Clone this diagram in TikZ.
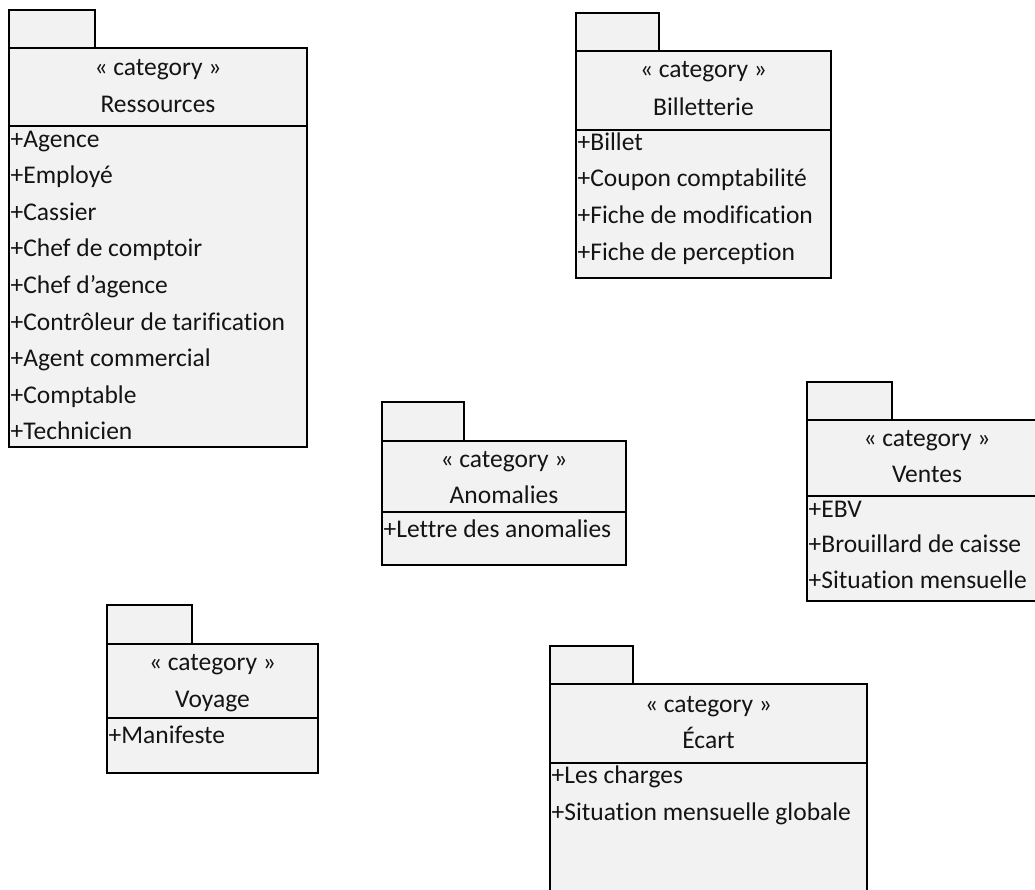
\documentclass[tikz,border=0pt]{standalone}
\usepackage{fontspec}
\setmainfont{Carlito}[Ligatures=NoCommon]
\tikzset{
  pkgfill/.style={draw=black, line width=1.5pt, fill=black!5},
  pkgline/.style={draw=black, line width=1.5pt},
  ttl/.style={anchor=base, inner sep=0pt, font=\fontsize{25.5}{30}\selectfont, text=black!92},
  itm/.style={anchor=base west, inner sep=0pt, font=\fontsize{25.5}{30}\selectfont, text=black!92},
}
% #1 L, #2 tab top, #3 tab right, #4 box top, #5 box right, #6 header line, #7 bottom
\newcommand\umlpackage[7]{%
  \draw[pkgfill] (#1,#2) rectangle (#3,#4);
  \draw[pkgfill] (#1,#4) rectangle (#5,#7);
  \draw[pkgline] (#1,#6) -- (#5,#6);
}
\begin{document}
\begin{tikzpicture}[x=1pt,y=-1pt]
\clip (0,0) rectangle (1035,889);
\fill[white] (0,0) rectangle (1035,889);

% Ressources
\umlpackage{9}{10}{95}{48}{307}{126}{447}
\node[ttl] (res-st) at (158,75) {« category »};
\node[ttl] (res-t) at (158,112) {Ressources};
\foreach \t [count=\i from 0] in {+Agence,+Employé,+Cassier,+Chef de comptoir,+Chef d’agence,+Contrôleur de tarification,+Agent commercial,+Comptable,+Technicien}
  \node[itm] (res-\i) at (10.5,{147+\i*36.6}) {\t};

% Billetterie
\umlpackage{576}{13}{659}{51}{831}{130}{278}
\node[ttl] (bil-st) at (703.5,77) {« category »};
\node[ttl] (bil-t) at (703.5,115) {Billetterie};
\foreach \t [count=\i from 0] in {+Billet,+Coupon comptabilité,+Fiche de modification,+Fiche de perception}
  \node[itm] (bil-\i) at (577.5,{150+\i*36.7}) {\t};

% Anomalies
\umlpackage{382}{402}{464}{441}{626}{512}{565}
\node[ttl] (ano-st) at (504,467) {« category »};
\node[ttl] (ano-t) at (504,503) {Anomalies};
\node[itm] (ano-0) at (383.5,537) {+Lettre des anomalies};

% Ventes
\umlpackage{807}{382}{892}{420}{1047}{496}{601}
\node[ttl] (ven-st) at (927,446) {« category »};
\node[ttl] (ven-t) at (927,482) {Ventes};
\foreach \t [count=\i from 0] in {+EBV,+Brouillard de caisse,+Situation mensuelle}
  \node[itm] (ven-\i) at (808.5,{517+\i*35.5}) {\t};

% Voyage
\umlpackage{107}{605}{192}{644}{318}{718}{773}
\node[ttl] (voy-st) at (212.5,670) {« category »};
\node[ttl] (voy-t) at (212.5,707) {Voyage};
\node[itm] (voy-0) at (108.5,743) {+Manifeste};

% Ecart
\umlpackage{550}{646}{633}{684}{867}{763}{900}
\node[ttl] (eca-st) at (708.5,712) {« category »};
\node[ttl] (eca-t) at (708.5,748) {Écart};
\foreach \t [count=\i from 0] in {+Les charges,+Situation mensuelle globale}
  \node[itm] (eca-\i) at (551.5,{783+\i*37}) {\t};
\end{tikzpicture}
\end{document}
